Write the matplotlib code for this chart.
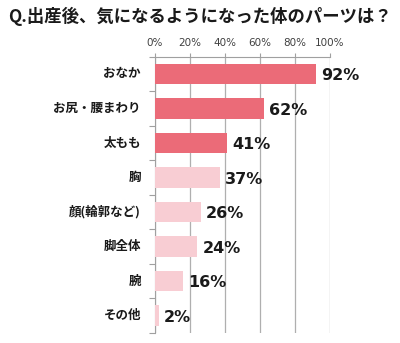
import numpy as np
import matplotlib.pyplot as plt

plt.rcParams['font.family'] = ['Noto Sans CJK JP', 'DejaVu Sans']

# 出産後に気になるようになった体のパーツ（%）
parts = ["おなか", "お尻・腰まわり", "太もも", "胸", "顔(輪郭など)", "脚全体", "腕", "その他"]
values = [92, 62, 41, 37, 26, 24, 16, 2]
top_n = 3  # 上位3項目は濃い色

dark = "#EB6B78"
light = "#F8CDD3"
colors = [dark if i < top_n else light for i in range(len(parts))]

fig = plt.figure(figsize=(4.0, 3.43), dpi=100)
ax = fig.add_axes([0.3875, 0.030, 0.4375, 0.8047])

y = np.arange(len(parts))
ax.barh(y, values, height=0.6, color=colors, zorder=3)

ax.set_xlim(0, 100)
ax.set_ylim(len(parts) - 0.5, -0.5)

# 目盛り（上側）
ax.xaxis.tick_top()
ax.set_xticks(np.arange(0, 101, 20))
ax.set_xticklabels([f"{v}%" for v in range(0, 101, 20)], fontsize=7.5,
                   color="#404040", family=['DejaVu Sans'])
ax.tick_params(axis='x', direction='out', length=3, width=0.8, color="#A0A0A0", pad=3)
ax.grid(axis='x', color="#AFAFAF", linewidth=0.9, zorder=0)

# カテゴリ境界に目盛り、ラベルは中央
ax.set_yticks(np.arange(-0.5, len(parts), 1.0))
ax.set_yticklabels([])
ax.tick_params(axis='y', direction='out', length=4, width=0.8, color="#A0A0A0")
for i, name in enumerate(parts):
    ax.text(-8, i, name, ha='right', va='center', fontsize=9,
            fontweight='bold', color="#1a1a1a")

for s in ['right', 'bottom']:
    ax.spines[s].set_visible(False)
for s in ['top', 'left']:
    ax.spines[s].set_color("#A0A0A0")
    ax.spines[s].set_linewidth(0.8)

# 数値ラベル
for i, v in enumerate(values):
    ax.text(v + 3, i + 0.05, f"{v}%", ha='left', va='center', fontsize=11.5,
            fontweight='bold', color="#1a1a1a", family=['DejaVu Sans'])

fig.text(0.5, 0.952, "Q.出産後、気になるようになった体のパーツは？", ha='center', va='center',
         fontsize=12.5, fontweight='bold', color="#1a1a1a")

fig.savefig("out.png", dpi=100, facecolor='white')
